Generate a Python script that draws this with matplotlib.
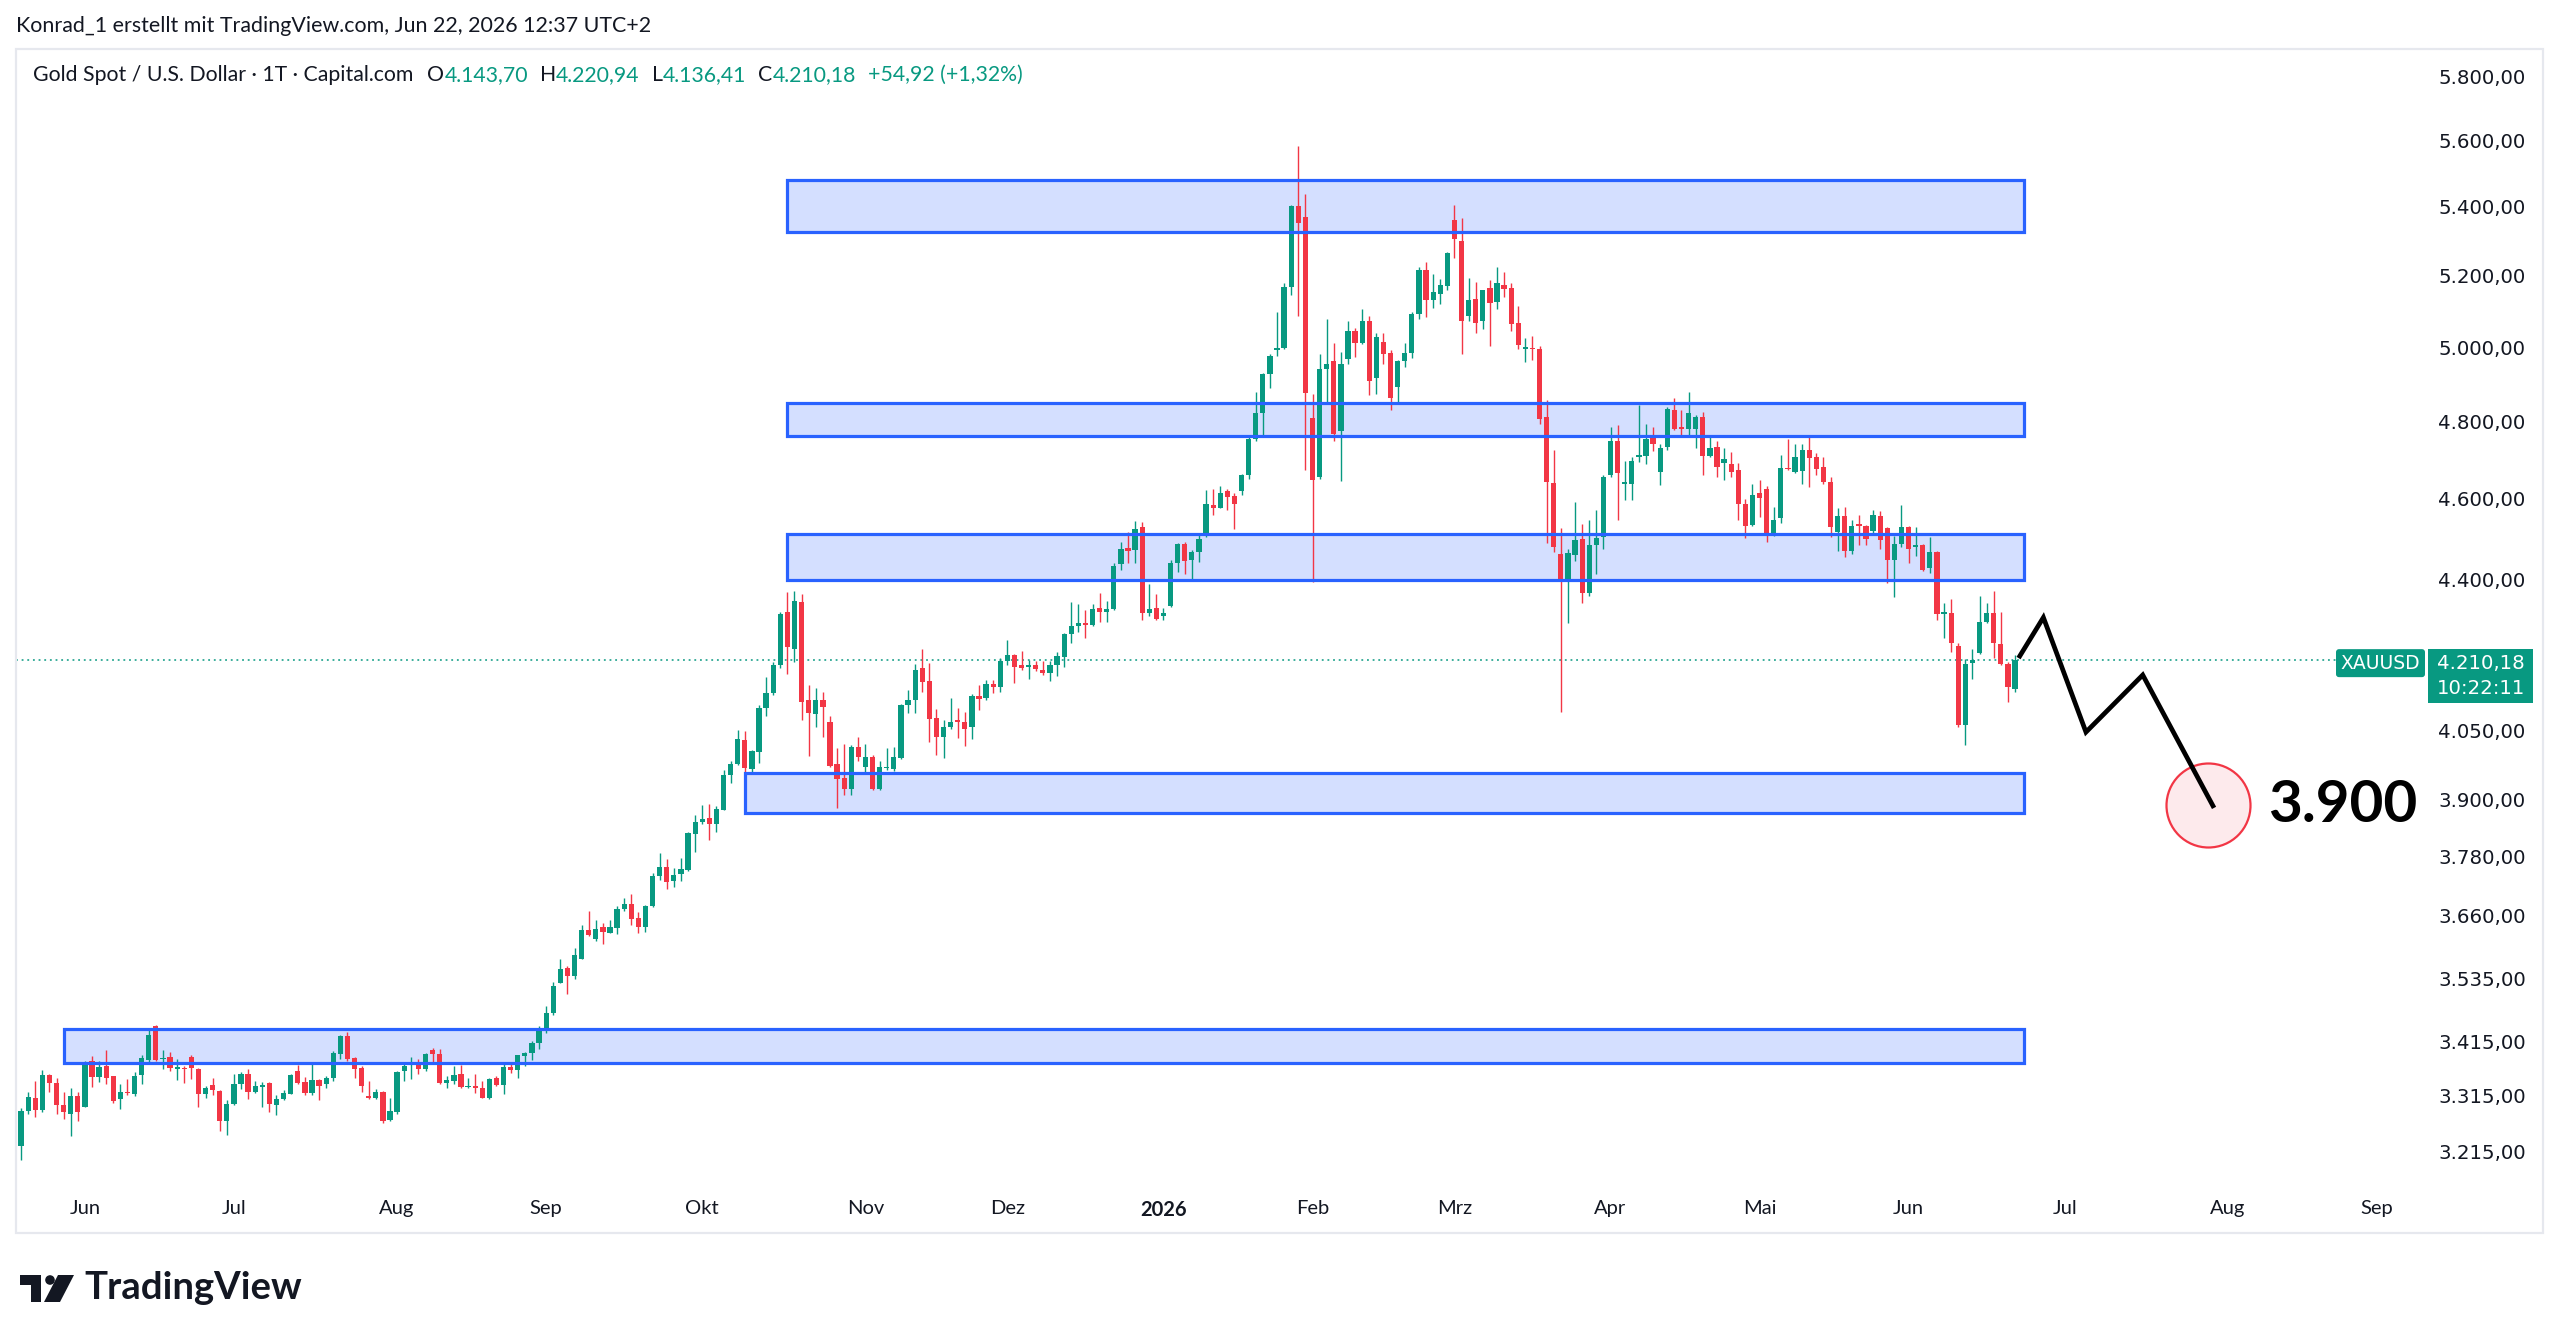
import numpy as np
import pandas as pd
import matplotlib
matplotlib.use("Agg")
import matplotlib.pyplot as plt
from matplotlib.patches import Rectangle, Polygon, Circle, FancyBboxPatch
from matplotlib.ticker import NullLocator, NullFormatter

# ---------------- data ----------------
start_date = "2025-05-20"
end_date = "2026-09-30"
holidays = ["2025-12-25", "2026-01-01", "2026-04-03"]

opens = [3224,3286,3311,3289,3352,3338,3297,3282,3314,3294,
         3379,3349,3369,3350,3308,3321,3318,3352,3380,3443,
         3381,3386,3364,3364,3386,3364,3318,3334,3323,3268,
         3300,3336,3354,3322,3331,3337,3298,3309,3318,3360,
         3340,3319,3343,3335,3346,3392,3425,3383,3366,3314,
         3311,3322,3270,3285,3359,3370,3377,3363,3399,3392,
         3338,3341,3354,3330,3333,3328,3311,3347,3334,3367,
         3361,3388,3393,3411,3440,3468,3527,3555,3540,3573,
         3630,3612,3637,3625,3635,3672,3682,3655,3637,3678,
         3739,3758,3730,3743,3751,3827,3852,3861,3848,3878,
         3952,3976,4030,3965,4002,4102,4134,4198,4323,4236,
         4346,4118,4087,4120,4069,3977,3946,3922,4015,3970,
         3992,3923,3967,3965,3990,4107,4119,4193,4162,4078,
         4037,4058,4073,4069,4059,4127,4123,4155,4149,4209,
         4222,4198,4194,4198,4188,4181,4198,4217,4270,4290,
         4296,4292,4332,4324,4330,4438,4478,4472,4530,4321,
         4333,4313,4338,4440,4488,4449,4469,4509,4585,4578,
         4621,4607,4620,4660,4754,4821,4926,4993,4997,5168,
         5404,5371,4809,4656,4941,4963,4775,4968,5044,5011,
         5071,4917,5014,4983,4891,4963,4984,5093,5215,5130,
         5149,5170,5361,5300,5087,5134,5071,5166,5125,5174,
         5166,5066,4995,4997,4994,4813,4640,4462,4401,4461,
         4500,4368,4484,4504,4660,4749,4639,4639,4708,4710,
         4758,4668,4734,4829,4785,4781,4781,4811,4710,4733,
         4691,4689,4673,4587,4535,4616,4624,4515,4552,4680,
         4668,4672,4725,4708,4681,4643,4518,4556,4471,4535,
         4533,4519,4558,4526,4448,4488,4530,4481,4484,4428,
         4468,4319,4321,4243,4062,4203,4227,4299,4321,4248,
         4202,4143.70]

highs = [3292,3321,3341,3362,3354,3346,3321,3328,3321,3378,
         3387,3379,3398,3351,3335,3345,3357,3389,3439,3445,
         3398,3395,3382,3369,3390,3365,3333,3346,3324,3306,
         3354,3357,3363,3342,3339,3340,3315,3324,3354,3370,
         3348,3372,3345,3351,3396,3427,3432,3385,3369,3342,
         3327,3323,3310,3360,3375,3386,3381,3393,3402,3401,
         3351,3369,3370,3346,3354,3341,3346,3350,3372,3375,
         3390,3395,3416,3444,3482,3528,3573,3559,3595,3640,
         3668,3651,3644,3651,3678,3695,3702,3666,3680,3745,
         3786,3774,3755,3777,3831,3866,3889,3891,3885,3964,
         3983,4051,4049,4008,4107,4172,4207,4323,4370,4373,
         4366,4153,4146,4138,4083,4011,4020,4018,4036,4021,
         3997,3983,4011,4013,4111,4142,4202,4235,4203,4099,
         4074,4124,4102,4092,4133,4153,4164,4164,4216,4256,
         4224,4232,4210,4209,4209,4209,4228,4273,4347,4342,
         4328,4342,4368,4348,4440,4492,4517,4544,4542,4391,
         4365,4333,4448,4491,4492,4472,4509,4622,4626,4632,
         4624,4615,4664,4761,4878,4930,4980,5098,5180,5407,
         5585,5439,4874,4981,5077,5010,4986,5072,5053,5105,
         5087,5039,5039,4992,4965,5010,5096,5226,5239,5205,
         5190,5267,5406,5366,5193,5182,5160,5188,5226,5212,
         5179,5115,5026,5030,5004,4856,4726,4528,4476,4592,
         4536,4546,4571,4660,4785,4790,4696,4708,4844,4793,
         4785,4740,4839,4861,4830,4878,4817,4824,4761,4748,
         4730,4721,4691,4601,4637,4649,4632,4580,4712,4754,
         4741,4741,4764,4718,4708,4655,4576,4580,4546,4560,
         4535,4571,4569,4530,4507,4584,4532,4530,4487,4506,
         4470,4345,4354,4250,4213,4237,4360,4345,4372,4322,
         4205,4220.94]

lows = [3200,3281,3275,3285,3321,3282,3272,3241,3269,3293,
        3330,3340,3335,3302,3291,3315,3314,3335,3375,3379,
        3363,3359,3344,3337,3345,3293,3310,3315,3251,3243,
        3298,3327,3308,3320,3294,3285,3280,3306,3317,3336,
        3316,3316,3306,3328,3342,3381,3379,3347,3321,3308,
        3308,3265,3269,3282,3342,3345,3354,3360,3372,3336,
        3329,3335,3328,3329,3320,3310,3308,3333,3318,3356,
        3347,3369,3380,3401,3431,3464,3526,3504,3534,3572,
        3618,3608,3602,3624,3622,3669,3641,3624,3627,3676,
        3732,3712,3716,3730,3750,3790,3848,3814,3832,3877,
        3935,3974,3938,3960,3980,4082,4130,4193,4178,4206,
        4073,3995,4059,4036,3970,3881,3910,3910,3983,3960,
        3921,3921,3963,3961,3988,4090,4090,4137,4026,3997,
        3990,4055,4034,4016,4031,4097,4120,4135,4138,4198,
        4157,4187,4167,4185,4176,4163,4173,4194,4250,4276,
        4262,4289,4300,4300,4327,4424,4440,4440,4303,4313,
        4303,4303,4335,4420,4415,4399,4444,4505,4559,4576,
        4573,4525,4610,4650,4748,4762,4890,4977,4994,5145,
        5087,4673,4395,4650,4847,4749,4645,4954,4974,5008,
        4869,4874,4954,4831,4847,4945,4970,5077,5082,5108,
        5120,5158,5250,4982,5073,5040,5049,5004,5107,5139,
        5044,4995,4959,4965,4793,4489,4467,4091,4298,4446,
        4344,4360,4413,4475,4656,4548,4597,4597,4693,4689,
        4723,4636,4726,4778,4765,4759,4730,4660,4706,4656,
        4647,4656,4548,4502,4531,4554,4493,4507,4540,4673,
        4667,4638,4630,4661,4638,4504,4471,4455,4463,4484,
        4484,4509,4475,4392,4358,4481,4441,4457,4421,4417,
        4303,4261,4230,4059,4018,4166,4225,4298,4214,4200,
        4114,4136.41]

closes = [3286,3312,3289,3353,3337,3297,3284,3314,3284,3376,
          3349,3367,3347,3304,3321,3319,3350,3383,3427,3380,
          3384,3365,3365,3363,3365,3318,3328,3324,3269,3299,
          3335,3354,3322,3333,3333,3299,3308,3320,3352,3338,
          3320,3343,3333,3347,3393,3425,3381,3363,3332,3311,
          3322,3269,3286,3358,3369,3374,3364,3391,3392,3337,
          3343,3352,3331,3332,3329,3311,3345,3334,3367,3362,
          3389,3393,3412,3439,3468,3521,3554,3539,3580,3630,
          3620,3633,3627,3637,3672,3682,3652,3637,3678,3740,
          3758,3728,3742,3754,3828,3852,3859,3847,3880,3952,
          3976,4032,3968,4006,4102,4134,4198,4318,4240,4348,
          4115,4089,4118,4104,3972,3944,3922,4015,3992,3992,
          3923,3970,3970,3992,4107,4119,4187,4160,4077,4037,
          4058,4069,4069,4055,4127,4122,4155,4149,4209,4222,
          4194,4193,4200,4189,4181,4198,4220,4270,4290,4296,
          4292,4330,4324,4330,4434,4476,4471,4525,4321,4329,
          4306,4321,4442,4488,4446,4469,4501,4587,4578,4616,
          4606,4587,4660,4754,4821,4926,4977,4996,5168,5404,
          5354,4875,4647,4941,4954,4766,4954,5044,5011,5071,
          4909,5028,4981,4863,4963,4984,5093,5215,5130,5153,
          5174,5264,5307,5073,5130,5068,5158,5122,5179,5163,
          5065,5006,4997,4994,4806,4643,4481,4396,4466,4498,
          4369,4484,4502,4656,4749,4665,4641,4696,4710,4754,
          4740,4730,4832,4781,4781,4822,4811,4710,4730,4682,
          4701,4669,4587,4533,4611,4603,4515,4548,4680,4675,
          4706,4725,4704,4677,4642,4530,4556,4471,4531,4532,
          4500,4560,4497,4448,4488,4530,4475,4483,4424,4468,
          4319,4321,4251,4062,4202,4211,4299,4321,4250,4202,
          4148,4210.18]

credit_text = "Konrad_1 erstellt mit TradingView.com, Jun 22, 2026 12:37 UTC+2"
title_text = "Gold Spot / U.S. Dollar · 1T · Capital.com"
ohlc_letters = ["O", "H", "L", "C"]
ohlc_values = ["4.143,70", "4.220,94", "4.136,41", "4.210,18"]
change_text = "+54,92 (+1,32%)"
symbol_text = "XAUUSD"
last_price = 4210.18
countdown_text = "10:22:11"

zone_low = [5326, 4761, 4400, 3871, 3374]
zone_high = [5481, 4848, 4512, 3958, 3438]
zone_start = ["2025-10-17", "2025-10-17", "2025-10-17", "2025-10-09", "2025-05-28"]
zone_end = "2026-06-23"

proj_offsets = [0.5, 4, 10, 18, 28.05]      # bars after the last candle
proj_prices = [4215, 4310, 4047, 4176, 3882]
target_offset = 27.2
target_price = 3888
target_label = "3.900"

price_ticks = [3215, 3315, 3415, 3535, 3660, 3780, 3900, 4050,
               4400, 4600, 4800, 5000, 5200, 5400, 5600, 5800]
month_abbr = ["Jan", "Feb", "Mrz", "Apr", "Mai", "Jun", "Jul", "Aug",
              "Sep", "Okt", "Nov", "Dez"]
first_label_month = "2025-06"
last_label_month = "2026-09"

# ---------------- style ----------------
GREEN = "#089981"
RED = "#F23645"
BLUE = "#2962FF"
TXT = "#131722"
SANS = ["Lato", "DejaVu Sans"]

W, H = 2560, 1339
fig = plt.figure(figsize=(W / 100, H / 100), dpi=100, facecolor="white")
PL, PR, PT, PB = 16, 2427, 49, 1184
ax = fig.add_axes([PL / W, 1 - PB / H, (PR - PL) / W, (PB - PT) / H])
ax.set_facecolor("white")
for s in ax.spines.values():
    s.set_visible(False)

dates = pd.bdate_range(start_date, end_date, freq="C", holidays=holidays)
pos = {d.strftime("%Y-%m-%d"): i for i, d in enumerate(dates)}

O = np.array(opens, float)
Hh = np.array(highs, float)
Ll = np.array(lows, float)
C = np.array(closes, float)
Hh = np.maximum(Hh, np.maximum(O, C))
Ll = np.minimum(Ll, np.minimum(O, C))
n = len(C)
x = np.arange(n)
up = C >= O
cols = np.where(up, GREEN, RED)

# zones (fill under candles, border above)
for lo, hi, st in zip(zone_low, zone_high, zone_start):
    x0 = pos[st]
    x1 = pos[zone_end] + 0.2
    ax.add_patch(Rectangle((x0, lo), x1 - x0, hi - lo, facecolor=(0.161, 0.384, 1.0, 0.2),
                           edgecolor="none", zorder=1))
    ax.add_patch(Rectangle((x0, lo), x1 - x0, hi - lo, facecolor="none",
                           edgecolor=BLUE, linewidth=2.3, zorder=5))

# candles
ax.vlines(x, Ll, Hh, colors=cols, linewidth=1.0, zorder=3)
bottoms = np.minimum(O, C)
heights = np.maximum(np.abs(C - O), 0.0009 * C)
ax.bar(x, heights, bottom=bottoms, width=0.74, color=cols, linewidth=0, zorder=4)

# last price dotted line
ax.axhline(last_price, xmin=0, xmax=(2337 - PL) / (PR - PL), color=GREEN,
           linestyle=(0, (1.2, 2.5)), linewidth=1.1, zorder=2)

# projection
last = n - 1
px = [last + o for o in proj_offsets]
ax.scatter([last + target_offset], [target_price], s=(84 * 0.72) ** 2,
           facecolor=(0.949, 0.212, 0.271, 0.1), edgecolor=RED, linewidth=1.6, zorder=6)
ax.plot(px, proj_prices, color="black", linewidth=3.4, solid_joinstyle="miter",
        solid_capstyle="butt", zorder=7)
ax.text(last + target_offset + 8.4, target_price, target_label, fontsize=42,
        fontweight="bold", family=SANS, color="black", va="center", ha="left", zorder=8)

# axes scales
ax.set_yscale("log")
ax.set_ylim(3157.5, 5889.5)
ax.set_xlim(-0.71, 339.06)

ax.yaxis.tick_right()
ax.set_yticks(price_ticks)
ax.set_yticklabels([f"{v:,.2f}".replace(",", "X").replace(".", ",").replace("X", ".")
                    for v in price_ticks])
ax.yaxis.set_minor_locator(NullLocator())
ax.yaxis.set_minor_formatter(NullFormatter())
ax.tick_params(axis="y", length=0, pad=8, labelsize=14.2, labelcolor=TXT)
for lbl in ax.get_yticklabels():
    lbl.set_family("DejaVu Sans")

mt, ml = [], []
for per in pd.period_range(first_label_month, last_label_month, freq="M"):
    ds = dates[(dates.year == per.year) & (dates.month == per.month)]
    if len(ds) == 0:
        continue
    mt.append(pos[ds[0].strftime("%Y-%m-%d")])
    ml.append(str(per.year) if per.month == 1 else month_abbr[per.month - 1])
ax.set_xticks(mt)
ax.set_xticklabels(ml)
ax.tick_params(axis="x", length=0, pad=11.5, labelsize=14.5, labelcolor=TXT)
for lbl in ax.get_xticklabels():
    lbl.set_family(SANS)
    if lbl.get_text().isdigit():
        lbl.set_fontweight("bold")

# ---------------- overlay in pixel coordinates ----------------
ov = fig.add_axes([0, 0, 1, 1], zorder=10)
ov.set_xlim(0, W)
ov.set_ylim(H, 0)
ov.axis("off")
ov.patch.set_alpha(0)

# pane border
ov.add_patch(Rectangle((PL, PT), 2543 - PL, 1233 - PT, facecolor="none",
                       edgecolor="#e6e8ee", linewidth=1.6))

renderer = fig.canvas.get_renderer()


def seq(xs, y, pieces, size):
    for txt, color, gap in pieces:
        t = ov.text(xs, y, txt, color=color, fontsize=size, family=SANS,
                    va="center", ha="left")
        bb = t.get_window_extent(renderer=renderer)
        xs += bb.width + gap
    return xs


ov.text(16, 26, credit_text, fontsize=15.4, family=SANS, color=TXT, va="center", ha="left")

pieces = [(title_text, TXT, 14)]
for let, val in zip(ohlc_letters, ohlc_values):
    pieces.append((let, TXT, 0))
    pieces.append((val, GREEN, 12))
pieces.append((change_text, GREEN, 0))
seq(33, 75, pieces, 15.3)

# price label boxes
yd = ax.transData.transform((0, last_price))[1]
ly = H - yd
ov.add_patch(FancyBboxPatch((2336, ly - 11), 89, 28, boxstyle="round,pad=0,rounding_size=3",
                            facecolor=GREEN, edgecolor="none"))
ov.text(2380.5, ly + 3, symbol_text, color="white", fontsize=13.5, family="DejaVu Sans",
        va="center", ha="center")
ov.add_patch(Rectangle((2428, ly - 11), 105, 54, facecolor=GREEN, edgecolor="none"))
ov.text(2437, ly + 3, ohlc_values[3], color="white", fontsize=14.2, family="DejaVu Sans",
        va="center", ha="left")
ov.text(2437, ly + 28, countdown_text, color="white", fontsize=14.2, family="DejaVu Sans",
        va="center", ha="left")

# TradingView logo
ov.add_patch(Polygon([(20, 1275), (41, 1275), (41, 1302), (31, 1302), (31, 1285), (20, 1285)],
                     closed=True, facecolor=TXT, edgecolor="none"))
ov.add_patch(Circle((50, 1280), 4.8, facecolor=TXT, edgecolor="none"))
ov.add_patch(Polygon([(58, 1275), (74, 1275), (60, 1302), (44, 1302)],
                     closed=True, facecolor=TXT, edgecolor="none"))
ov.text(84, 1288, "TradingView", fontsize=27.5, fontweight="bold", family=SANS,
        color=TXT, va="center", ha="left")

fig.savefig("out.png", dpi=100, facecolor="white")
